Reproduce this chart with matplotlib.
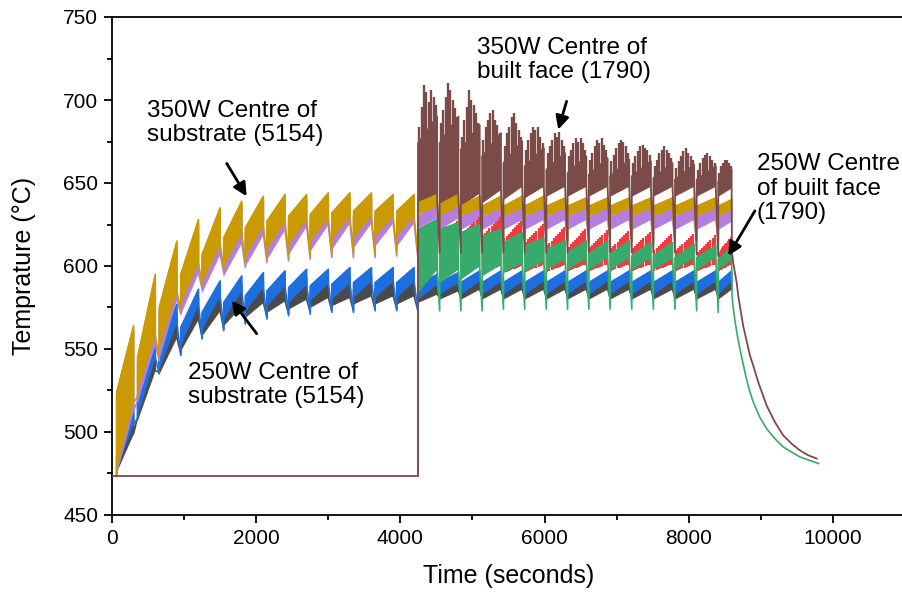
import matplotlib
matplotlib.use("Agg")
import matplotlib.pyplot as plt

plt.rcParams['font.family'] = ['Liberation Sans', 'DejaVu Sans']

# ------------------------------------------------------------------
# Data (time in s, temperature in °C)
# ------------------------------------------------------------------
base_temp = 473.5

# layer cycles: substrate-only phase and built-face phase
p1_start = [65, 355, 655, 955, 1250, 1550, 1850, 2150, 2450, 2750, 3050, 3350, 3650, 3950]
p1_end   = [300, 600, 900, 1200, 1500, 1800, 2100, 2400, 2700, 3000, 3300, 3600, 3900, 4190]
p2_start = [4245, 4545, 4840, 5135, 5430, 5725, 6025, 6320, 6615, 6910, 7210, 7510, 7810, 8110, 8410]
p2_end   = [4510, 4805, 5100, 5395, 5690, 5990, 6285, 6580, 6875, 7175, 7475, 7775, 8075, 8375, 8595]

# 350W centre of substrate (gold), 29 cycles
gold_top_s = [524, 545, 575, 595, 607, 617, 623, 627, 630, 631, 632, 633, 633, 633,
              638, 637, 636, 636, 636, 636, 636, 636, 636, 636, 636, 636, 636, 636, 636]
gold_top_e = [564, 595, 615, 628, 635, 639, 642, 643, 643, 644, 644, 644, 643, 643,
              643, 643, 642, 642, 642, 642, 641, 641, 641, 641, 641, 641, 641, 641, 640]
gold_bot_s = [478, 524, 550, 577, 590, 600, 606, 610, 613, 615, 616, 617, 618, 618,
              631, 630, 630, 630, 630, 630, 630, 630, 630, 630, 630, 630, 630, 630, 630]
gold_bot_e = [518, 558, 585, 602, 613, 620, 624, 627, 628, 629, 630, 630, 630, 630,
              636, 636, 635, 635, 635, 635, 635, 635, 635, 635, 635, 635, 635, 635, 634]
gold_dip   = [521, 545, 573, 588, 598, 601, 604, 605, 606, 607, 607, 607, 608, 606,
              615, 615, 615, 615, 615, 615, 615, 615, 615, 615, 615, 615, 615, 615]

# 350W second substrate point (purple)
purple_top_s = [521, 542, 572, 592, 604, 614, 620, 624, 627, 628, 629, 630, 630, 630,
                630, 630, 629, 629, 629, 629, 629, 629, 629, 629, 629, 629, 629, 629, 629]
purple_top_e = [561, 592, 612, 625, 632, 636, 639, 640, 640, 641, 641, 641, 640, 640,
                636, 636, 635, 635, 635, 635, 635, 635, 635, 635, 635, 635, 635, 635, 634]
purple_bot_s = [475, 518, 544, 571, 584, 594, 600, 604, 607, 609, 610, 611, 612, 612,
                623, 622, 622, 622, 622, 622, 622, 622, 622, 622, 622, 622, 622, 622, 622]
purple_bot_e = [513, 553, 580, 596, 607, 614, 619, 622, 624, 625, 626, 626, 626, 626,
                629, 629, 628, 628, 628, 628, 628, 628, 628, 628, 628, 628, 628, 628, 627]
purple_dip   = [519, 543, 571, 586, 596, 599, 602, 603, 604, 605, 605, 605, 606, 604,
                615, 615, 615, 615, 615, 615, 615, 615, 615, 615, 615, 615, 615, 615]

# 250W centre of substrate (blue)
blue_top_s = [486, 522, 548, 563, 572, 578, 582, 585, 587, 588, 589, 590, 590, 590,
              588, 590, 590, 590, 590, 590, 590, 590, 590, 590, 590, 590, 590, 590, 590]
blue_top_e = [516, 560, 577, 586, 591, 594, 596, 597, 598, 598, 599, 599, 599, 599,
              595, 596, 597, 597, 597, 597, 597, 597, 597, 597, 597, 597, 597, 597, 597]
blue_bot_s = [478, 510, 538, 552, 562, 568, 573, 576, 578, 579, 580, 581, 581, 581,
              580, 583, 583, 583, 583, 583, 583, 583, 583, 583, 583, 583, 583, 583, 583]
blue_bot_e = [505, 545, 566, 577, 582, 585, 587, 588, 589, 590, 590, 591, 591, 591,
              589, 590, 591, 591, 591, 591, 591, 591, 591, 591, 591, 591, 591, 591, 591]
blue_dip   = [508, 535, 546, 556, 561, 565, 568, 570, 571, 572, 572, 573, 573, 572,
              580, 580, 580, 580, 580, 580, 580, 580, 580, 580, 580, 580, 580, 580]

# 250W second substrate point (dark grey)
gray_top_s = [482, 518, 544, 559, 568, 574, 578, 581, 583, 584, 585, 586, 586, 586,
              584, 586, 586, 586, 586, 586, 586, 586, 586, 586, 586, 586, 586, 586, 586]
gray_top_e = [511, 555, 572, 581, 586, 589, 591, 592, 593, 593, 594, 594, 594, 594,
              590, 591, 592, 592, 592, 592, 592, 592, 592, 592, 592, 592, 592, 592, 592]
gray_bot_s = [476, 507, 535, 549, 558, 564, 569, 572, 574, 575, 576, 577, 577, 577,
              578, 580, 580, 580, 580, 580, 580, 580, 580, 580, 580, 580, 580, 580, 580]
gray_bot_e = [499, 537, 557, 568, 573, 576, 578, 579, 580, 581, 581, 582, 582, 582,
              583, 585, 586, 586, 586, 586, 586, 586, 586, 586, 586, 586, 586, 586, 586]
gray_dip   = [509, 536, 547, 557, 562, 566, 569, 571, 572, 573, 573, 574, 574, 573,
              581, 581, 581, 581, 581, 581, 581, 581, 581, 581, 581, 581, 581, 581]

# red series (built-face phase only), 15 cycles
red_bot_s = [590, 592, 594, 595, 596, 596, 596, 597, 597, 597, 597, 597, 597, 597, 597]
red_bot_e = [598, 598, 600, 600, 600, 601, 601, 601, 601, 601, 601, 601, 601, 601, 601]
red_top_s = [612, 615, 618, 618, 616, 614, 612, 611, 611, 610, 610, 609, 609, 608, 608]
red_top_e = [625, 628, 630, 630, 628, 626, 624, 623, 622, 622, 621, 620, 620, 619, 618]

# 350W centre of built face (brown)
brown_bot_s  = [632, 634, 636, 638, 640, 641, 642, 642, 642, 642, 642, 642, 642, 642, 642]
brown_bot_e  = [640, 642, 644, 646, 648, 648, 648, 648, 648, 648, 648, 648, 648, 648, 647]
brown_body_s = [674, 674, 670, 666, 662, 660, 658, 656, 655, 654, 654, 653, 652, 652, 651]
brown_body_e = [690, 690, 685, 680, 675, 671, 668, 666, 665, 664, 663, 662, 661, 660, 658]
brown_spikes = [
    [684, 696, 709, 705, 699, 706, 702, 697],
    [686, 694, 702, 710, 706, 700, 695, 690],
    [678, 688, 696, 706, 700, 697, 692, 686],
    [676, 684, 688, 692, 694, 688, 685, 680],
    [672, 680, 684, 690, 692, 686, 682, 678],
    [670, 676, 680, 684, 682, 684, 678, 674],
    [668, 672, 676, 680, 678, 681, 676, 672],
    [666, 670, 674, 677, 675, 677, 674, 670],
    [664, 668, 672, 676, 674, 677, 673, 670],
    [663, 667, 671, 674, 676, 675, 672, 668],
    [662, 666, 669, 672, 673, 671, 670, 667],
    [660, 664, 668, 670, 672, 670, 668, 665],
    [659, 663, 666, 669, 671, 668, 666, 664],
    [658, 662, 665, 667, 668, 666, 664, 662],
    [656, 660, 662, 664, 664, 662, 660],
]
brown_dip = [608, 608, 608, 608, 608, 608, 608, 608, 608, 608, 608, 608, 607, 606]
brown_cool_t = [8600, 8617, 8665, 8687, 8755, 8850, 8895, 8965, 9080, 9195, 9310,
                9426, 9540, 9657, 9775]
brown_cool_T = [608, 602, 590, 582, 564, 546, 540, 530, 516, 506, 498,
                493, 489, 486, 484]

# 250W centre of built face (green)
green_top_s = [622, 622, 620, 618, 614, 612, 610, 608, 607, 607, 606, 606, 605, 605, 604]
green_top_e = [628, 626, 625, 622, 620, 617, 615, 615, 615, 615, 614, 614, 613, 612, 611]
green_bot_s = [584, 590, 592, 594, 596, 597, 598, 598, 598, 598, 598, 598, 598, 598, 598]
green_bot_e = [598, 598, 600, 601, 602, 603, 604, 605, 605, 605, 605, 605, 605, 605, 604]
green_dip   = [573, 573, 573, 574, 574, 574, 574, 574, 574, 574, 574, 574, 573, 572]
green_cool_t = [8600, 8620, 8645, 8675, 8710, 8755, 8800, 8850, 8895, 8985, 9080,
                9195, 9310, 9425, 9540, 9670, 9800]
green_cool_T = [582, 574, 566, 558, 550, 541, 532, 524, 518, 509, 502,
                496, 491, 488, 485, 483, 481]

# colours
C_GOLD, C_PURPLE, C_BLUE, C_GRAY = '#C99A02', '#B47EDF', '#1D6FE0', '#4A4A4A'
C_BROWN, C_GREEN, C_RED = '#7B4B48', '#38AA6B', '#EC3E3E'

# ------------------------------------------------------------------
fig = plt.figure(figsize=(9.03, 5.96), dpi=100)
ax = fig.add_axes([112 / 903, 1 - 515 / 596, 793 / 903, 498 / 596])

sub_start = p1_start + p2_start
sub_end = p1_end + p2_end


def band_path(starts, ends, ts, te, be, dips):
    xs, ys = [], []
    n = len(starts)
    for k in range(n):
        xs += [starts[k], ends[k], ends[k]]
        ys += [ts[k], te[k], be[k]]
        if k < n - 1:
            xs.append(starts[k + 1])
            ys.append(dips[k])
    return xs, ys


def draw_band_series(starts, ends, ts, te, bs, be, dips, color, z, lead=None,
                     tail_t=None, tail_T=None):
    for s, e, a, b, c, d in zip(starts, ends, ts, te, bs, be):
        ax.fill([s, e, e, s], [c, d, b, a], facecolor=color, edgecolor=color,
                lw=0.6, zorder=z)
    xs, ys = band_path(starts, ends, ts, te, be, dips)
    if lead is not None:
        xs = [starts[0]] + xs
        ys = [lead] + ys
    if tail_t is not None:
        xs = xs + list(tail_t)
        ys = ys + list(tail_T)
    ax.plot(xs, ys, color=color, lw=1.2, zorder=z + 0.05)


# substrate series (both phases)
draw_band_series(sub_start, sub_end, gray_top_s, gray_top_e, gray_bot_s, gray_bot_e,
                 gray_dip, C_GRAY, 3, lead=base_temp)
draw_band_series(sub_start, sub_end, blue_top_s, blue_top_e, blue_bot_s, blue_bot_e,
                 blue_dip, C_BLUE, 4, lead=base_temp)
draw_band_series(sub_start, sub_end, purple_top_s, purple_top_e, purple_bot_s,
                 purple_bot_e, purple_dip, C_PURPLE, 5, lead=base_temp)
draw_band_series(sub_start, sub_end, gold_top_s, gold_top_e, gold_bot_s, gold_bot_e,
                 gold_dip, C_GOLD, 6, lead=base_temp)

# red series: comb of oscillation lines
n_comb = 9
for s, e, bs_, be_, ts_, te_ in zip(p2_start, p2_end, red_bot_s, red_bot_e,
                                   red_top_s, red_top_e):
    for j in range(n_comb):
        f = (j + 0.5) / n_comb
        t = s + f * (e - s)
        ax.vlines(t, bs_ + f * (be_ - bs_), ts_ + f * (te_ - ts_), color=C_RED,
                  lw=1.6, zorder=7)

# green series
draw_band_series(p2_start, p2_end, green_top_s, green_top_e, green_bot_s, green_bot_e,
                 green_dip, C_GREEN, 8, lead=base_temp,
                 tail_t=green_cool_t, tail_T=green_cool_T)

# brown series: baseline, body, spikes
for s, e, a, b, c, d in zip(p2_start, p2_end, brown_body_s, brown_body_e,
                            brown_bot_s, brown_bot_e):
    ax.fill([s, e, e, s], [c, d, b, a], facecolor=C_BROWN, edgecolor=C_BROWN,
            lw=0.6, zorder=2)
for s, e, a, b, sp in zip(p2_start, p2_end, brown_body_s, brown_body_e, brown_spikes):
    m = len(sp)
    for j, h in enumerate(sp):
        f = (j + 0.5) / m
        t = s + f * (e - s)
        ax.vlines(t, a + f * (b - a) - 2, h, color=C_BROWN, lw=1.7, zorder=2)
bx, by = band_path(p2_start, p2_end, brown_body_s, brown_body_e, brown_bot_e, brown_dip)
bx = [0, p2_start[0]] + bx + brown_cool_t
by = [base_temp, base_temp] + by + brown_cool_T
ax.plot(bx, by, color=C_BROWN, lw=1.3, zorder=9)

# ------------------------------------------------------------------
ax.set_xlim(0, 11000)
ax.set_ylim(450, 750)
ax.set_xticks([0, 2000, 4000, 6000, 8000, 10000])
ax.set_xticks([1000, 3000, 5000, 7000, 9000], minor=True)
ax.set_yticks([450, 500, 550, 600, 650, 700, 750])
ax.set_yticks([475, 525, 575, 625, 675, 725], minor=True)
ax.tick_params(which='major', direction='out', length=6, width=1.3, labelsize=15, pad=4)
ax.tick_params(which='minor', direction='out', length=3.5, width=1.3)
ax.spines['right'].set_visible(False)
for sp_name in ['left', 'bottom', 'top']:
    ax.spines[sp_name].set_linewidth(1.3)

ax.set_xlabel('Time (seconds)', fontsize=18)
ax.set_ylabel('Temprature (°C)', fontsize=18)
ax.xaxis.set_label_coords(0.5, -0.098)
ax.yaxis.set_label_coords(-0.096, 0.5)

# annotations
tfs = 17.5
ax.text(485, 700.2, '350W Centre of\nsubstrate (5154)', fontsize=tfs, va='top', ha='left',
        linespacing=1.15, zorder=20)
ax.text(1054, 542.4, '250W Centre of\nsubstrate (5154)', fontsize=tfs, va='top', ha='left',
        linespacing=1.15, zorder=20)
ax.text(5062, 738, '350W Centre of\nbuilt face (1790)', fontsize=tfs, va='top', ha='left',
        linespacing=1.15, zorder=20)
ax.text(8942, 668, '250W Centre\nof built face\n(1790)', fontsize=tfs, va='top', ha='left',
        linespacing=1.15, zorder=20, clip_on=False)

arrow_kw = dict(arrowstyle='-|>', color='black', lw=2.0, mutation_scale=20,
                shrinkA=0, shrinkB=0)
ax.annotate('', xy=(1868, 642), xytext=(1591, 661.8), arrowprops=arrow_kw, zorder=20)
ax.annotate('', xy=(1660, 579.2), xytext=(2007, 559.2), arrowprops=arrow_kw, zorder=20)
ax.annotate('', xy=(6190, 682.2), xytext=(6306, 699.2), arrowprops=arrow_kw, zorder=20)
ax.annotate('', xy=(8548, 606.2), xytext=(8918, 633.2), arrowprops=arrow_kw, zorder=20)

fig.savefig('out.png', dpi=100)
